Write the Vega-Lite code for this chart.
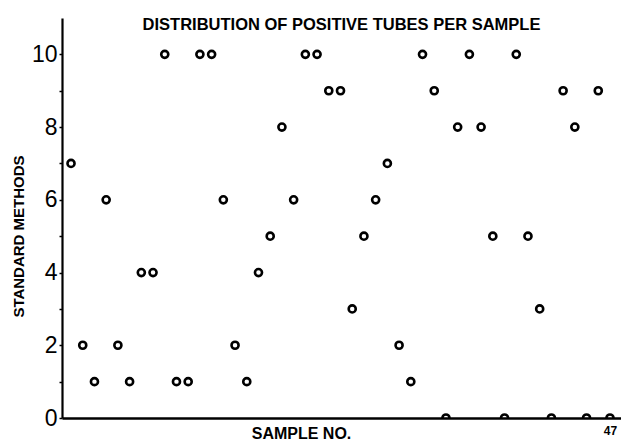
{
  "$schema": "https://vega.github.io/schema/vega-lite/v6.json",
  "width": 559,
  "height": 400,
  "autosize": {"type": "none"},
  "padding": {"left": 62, "top": 18, "right": 0, "bottom": 25},
  "background": "white",
  "title": {
    "text": "DISTRIBUTION OF POSITIVE TUBES PER SAMPLE",
    "font": "Liberation Sans",
    "fontSize": 16.5,
    "fontWeight": "bold",
    "color": "black",
    "anchor": "middle",
    "offset": -15
  },
  "config": {
    "view": {"stroke": null},
    "axis": {"grid": false, "domainColor": "black", "tickColor": "black", "labelColor": "black", "titleColor": "black"}
  },
  "data": {
    "values": [
      {"sample": 1, "value": 7}, {"sample": 2, "value": 2}, {"sample": 3, "value": 1},
      {"sample": 4, "value": 6}, {"sample": 5, "value": 2}, {"sample": 6, "value": 1},
      {"sample": 7, "value": 4}, {"sample": 8, "value": 4}, {"sample": 9, "value": 10},
      {"sample": 10, "value": 1}, {"sample": 11, "value": 1}, {"sample": 12, "value": 10},
      {"sample": 13, "value": 10}, {"sample": 14, "value": 6}, {"sample": 15, "value": 2},
      {"sample": 16, "value": 1}, {"sample": 17, "value": 4}, {"sample": 18, "value": 5},
      {"sample": 19, "value": 8}, {"sample": 20, "value": 6}, {"sample": 21, "value": 10},
      {"sample": 22, "value": 10}, {"sample": 23, "value": 9}, {"sample": 24, "value": 9},
      {"sample": 25, "value": 3}, {"sample": 26, "value": 5}, {"sample": 27, "value": 6},
      {"sample": 28, "value": 7}, {"sample": 29, "value": 2}, {"sample": 30, "value": 1},
      {"sample": 31, "value": 10}, {"sample": 32, "value": 9}, {"sample": 33, "value": 0},
      {"sample": 34, "value": 8}, {"sample": 35, "value": 10}, {"sample": 36, "value": 8},
      {"sample": 37, "value": 5}, {"sample": 38, "value": 0}, {"sample": 39, "value": 10},
      {"sample": 40, "value": 5}, {"sample": 41, "value": 3}, {"sample": 42, "value": 0},
      {"sample": 43, "value": 9}, {"sample": 44, "value": 8}, {"sample": 45, "value": 0},
      {"sample": 46, "value": 9}, {"sample": 47, "value": 0}
    ]
  },
  "mark": {"type": "point", "shape": "circle", "filled": false, "stroke": "black", "strokeWidth": 2.6, "size": 50, "opacity": 1, "clip": true},
  "encoding": {
    "x": {
      "field": "sample",
      "type": "quantitative",
      "scale": {"domain": [0.23, 47.94], "nice": false, "zero": false},
      "axis": {
        "values": [47],
        "domainWidth": 2.5,
        "ticks": false,
        "labelFont": "Liberation Sans",
        "labelFontSize": 12,
        "labelFontWeight": "bold",
        "labelPadding": 7,
        "title": "SAMPLE NO.",
        "titleFont": "Liberation Sans",
        "titleFontSize": 16,
        "titleFontWeight": "bold",
        "titleX": 239,
        "titleY": 20,
        "titleAlign": "center",
        "titleBaseline": "alphabetic"
      }
    },
    "y": {
      "field": "value",
      "type": "quantitative",
      "scale": {"domain": [0, 11], "nice": false},
      "axis": {
        "values": [0, 1, 2, 3, 4, 5, 6, 7, 8, 9, 10],
        "labelExpr": "datum.value % 2 == 0 ? datum.label : ''",
        "domainWidth": 2.2,
        "tickSize": 3,
        "tickWidth": 1.5,
        "labelFont": "Liberation Sans",
        "labelFontSize": 23,
        "labelPadding": 2,
        "title": "STANDARD METHODS",
        "titleFont": "Liberation Sans",
        "titleFontSize": 15,
        "titleFontWeight": "bold",
        "titleX": -44,
        "titleY": 218,
        "titleAngle": -90,
        "titleAlign": "center",
        "titleBaseline": "middle"
      }
    }
  }
}
